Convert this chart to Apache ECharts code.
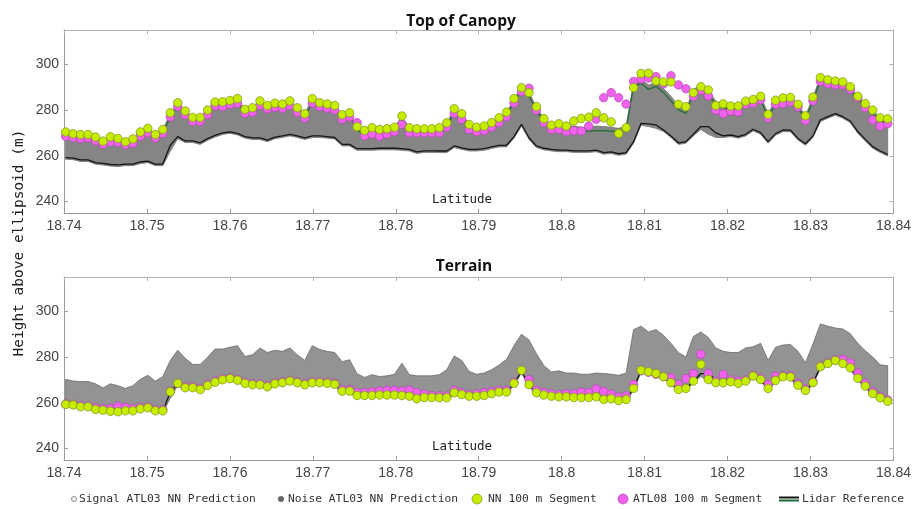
<!DOCTYPE html>
<html><head><meta charset="utf-8">
<script src="https://cdn.jsdelivr.net/npm/echarts@6/dist/echarts.min.js"></script>
<style>html,body{margin:0;padding:0;background:#fff}#c{width:914px;height:509px}</style>
</head><body><div id="c"></div>
<script>
// ---- data: 100 m segments along track ----
const SEG_START = 18.7402;   // latitude of first 100 m segment
const SEG_STEP = 0.0009009;  // latitude step of a 100 m segment
const SEG_COUNT = 111;

const xTicks = [18.74, 18.75, 18.76, 18.77, 18.78, 18.79, 18.80, 18.81, 18.82, 18.83, 18.84];
const yTicks = [240, 260, 280, 300];

// Top of canopy: NN 100 m segment
const nnCanopy = [
270.4, 269.6, 269.3, 269.3, 268.2, 266.4, 268.3, 267.6, 266.1, 267.4,
270.4, 272.0, 269.3, 271.5, 278.8, 283.2, 279.6, 276.8, 276.8, 280.0,
283.5, 283.6, 284.2, 285.0, 280.3, 281.0, 284.0, 282.0, 283.0, 282.6,
284.0, 281.0, 278.4, 285.0, 283.2, 282.6, 282.0, 278.0, 278.8, 272.7,
271.1, 272.3, 271.5, 271.8, 272.5, 277.4, 272.3, 271.8, 271.8, 271.8,
272.3, 274.4, 280.6,
278.4, 273.7, 272.5, 273.0, 274.5, 276.6, 279.1, 285.0, 289.8, 287.6,
281.5, 276.2, 273.4, 274.0, 273.0, 275.2, 276.3, 276.9, 278.8, 276.6,
274.8, 269.8, 272.3, 289.8, 296.0, 296.1, 292.7, 292.3, 292.3, 282.5,
281.5, 287.6, 290.2, 288.8, 282.0, 282.7, 281.8, 281.8, 283.9, 284.6,
286.0, 278.1, 284.3, 285.3, 285.5, 282.5, 277.5, 285.7, 294.2, 293.2,
292.7, 292.3, 290.2, 286.0, 282.8, 280.0, 276.6, 276.2];

// Top of canopy: ATL08 100 m segment
const atl08Canopy = [
268.5, 268.0, 267.5, 267.8, 266.5, 265.0, 266.0, 265.8, 264.8, 265.5,
268.5, 270.0, 267.8, 269.8, 277.0, 281.5, 277.8, 275.0, 275.0, 278.0,
281.8, 281.5, 282.4, 283.0, 278.5, 279.0, 282.0, 280.5, 281.2, 280.8,
282.0, 279.0, 276.5, 283.0, 281.5, 280.8, 280.0, 276.0, 277.0, 274.5,
268.7, 269.5, 268.5, 269.5, 270.5, 273.7, 270.0, 270.0, 270.0, 270.0,
270.0, 272.5, 278.5,
276.0, 271.5, 270.5, 271.0, 272.5, 274.5, 277.0, 283.0, 288.0, 289.5,
280.0, 274.5, 271.5, 271.5, 270.5, 271.0, 270.8, 273.0, 276.0, 285.4,
287.6, 285.4, 282.6, 292.5, 293.6, 294.0, 294.6, 291.5, 295.0, 291.0,
289.3, 286.0, 288.5, 286.2, 279.9, 278.4, 279.5, 279.2, 282.5, 283.0,
284.5, 276.6, 282.5, 282.8, 283.5, 281.3, 275.5, 284.0, 292.5, 291.5,
291.0, 291.0, 289.0, 285.4, 281.0, 275.7, 273.0, 274.0];

// Terrain: NN 100 m segment
const nnTerrain = [
259.3, 259.1, 258.3, 258.3, 257.1, 256.8, 256.3, 256.1, 256.5, 256.5,
257.4, 257.8, 256.5, 256.5, 264.8, 268.5, 266.6, 266.6, 265.8, 267.6,
269.0, 270.1, 270.6, 269.9, 268.5, 267.9, 267.9, 267.0, 268.3, 268.8,
269.5, 268.8, 267.9, 268.8, 268.8, 268.5, 268.1, 265.1, 265.1, 263.2,
263.2, 263.2, 263.4, 263.4, 263.4, 263.2, 262.9, 261.8, 262.3, 262.3,
262.2, 262.2, 264.4,
263.6, 262.9, 262.9, 263.2, 264.0, 264.7, 264.7, 268.5, 274.2, 268.0,
264.4, 263.4, 262.9, 262.6, 262.6, 262.3, 262.3, 262.3, 262.6, 261.5,
261.8, 261.0, 261.5, 266.3, 274.2, 273.6, 272.8, 271.4, 268.8, 265.8,
266.3, 269.5, 276.8, 270.2, 268.8, 268.8, 269.2, 268.5, 269.5, 271.7,
270.2, 266.3, 269.8, 271.4, 271.3, 267.7, 265.4, 268.8, 275.8, 277.2,
278.5, 277.2, 275.3, 270.7, 267.3, 264.1, 262.2, 260.7];

// Terrain: ATL08 100 m segment
const atl08Terrain = [
259.5, 259.3, 258.8, 258.6, 257.8, 257.5, 257.5, 258.5, 258.0, 257.5,
258.0, 258.2, 257.0, 257.0, 265.0, 268.5, 267.0, 267.0, 266.3, 268.0,
269.5, 270.5, 271.0, 270.2, 269.0, 268.3, 268.3, 267.5, 268.7, 269.2,
269.8, 269.2, 268.3, 269.2, 269.2, 268.9, 268.5, 265.8, 265.8, 264.5,
264.5, 264.8, 265.2, 265.5, 265.5, 265.2, 265.6, 264.5, 263.8, 263.2,
263.0, 263.0, 265.5,
264.5, 263.5, 264.0, 264.5, 265.0, 265.5, 265.5, 269.0, 274.2, 270.2,
265.5, 264.5, 264.0, 263.5, 264.0, 264.0, 264.7, 264.5, 266.1, 265.0,
263.8, 262.5, 263.0, 268.0, 274.0, 273.4, 272.5, 271.5, 271.0, 268.0,
270.6, 272.8, 281.2, 272.8, 269.5, 272.4, 270.0, 269.5, 270.0, 272.0,
270.8, 268.0, 271.7, 271.8, 271.8, 268.5, 266.0, 269.2, 276.0, 277.5,
278.8, 279.0, 277.5, 273.0, 268.5, 265.0, 262.8, 261.2];

// Lidar reference, terrain (black)
const lidarTerrain = [
259.2, 259.0, 258.2, 258.2, 257.0, 256.7, 256.2, 256.0, 256.4, 256.4,
257.3, 257.7, 256.4, 256.4, 264.6, 268.4, 266.5, 266.5, 265.7, 267.5,
268.9, 270.0, 270.5, 269.8, 268.4, 267.8, 267.8, 266.9, 268.2, 268.7,
269.4, 268.7, 267.8, 268.7, 268.7, 268.4, 268.0, 265.0, 265.0, 263.1,
263.1, 263.1, 263.3, 263.3, 263.3, 263.1, 262.8, 261.7, 262.2, 262.2,
262.1, 262.1, 264.3,
263.5, 262.8, 262.8, 263.1, 263.9, 264.6, 264.6, 268.4, 273.8, 267.9,
264.3, 263.3, 262.8, 262.5, 262.5, 262.2, 262.2, 262.2, 262.5, 261.4,
261.7, 260.9, 261.4, 266.2, 274.2, 274.0, 273.5, 271.3, 268.7, 265.7,
266.2, 269.4, 272.8, 272.8, 270.0, 268.7, 269.1, 268.4, 269.4, 271.6,
270.1, 266.2, 269.7, 271.3, 271.2, 267.6, 265.3, 268.7, 275.7, 277.1,
278.4, 277.1, 275.2, 270.6, 267.2, 264.0, 262.1, 260.6];

// Lidar reference, top of canopy (dark green)
const lidarCanopy = [
268.8, 268.0, 267.8, 267.8, 266.8, 265.0, 266.8, 266.0, 264.8, 266.0,
268.8, 270.5, 268.0, 270.0, 277.0, 281.5, 278.0, 275.3, 275.3, 278.5,
282.0, 282.0, 282.8, 283.5, 278.8, 279.5, 282.5, 280.5, 281.5, 281.0,
282.5, 279.5, 277.0, 283.5, 281.8, 281.0, 280.5, 276.5, 277.3, 271.2,
269.6, 270.8, 270.0, 270.3, 271.0, 275.8, 270.8, 270.3, 270.3, 270.3,
270.8, 273.0, 279.0,
277.0, 272.2, 271.0, 271.5, 273.0, 275.0, 277.5, 283.5, 288.5, 286.0,
280.0, 274.8, 272.0, 272.5, 271.5, 271.0, 270.8, 270.8, 271.0, 271.0,
270.8, 270.5, 271.5, 290.5, 291.7, 289.0, 290.5, 287.6, 284.0, 280.2,
278.5, 287.6, 289.8, 286.9, 282.5, 281.0, 280.5, 280.5, 282.5, 283.0,
284.6, 276.8, 282.8, 283.8, 284.0, 281.0, 276.0, 284.2, 292.7, 291.7,
291.2, 290.8, 288.7, 284.8, 281.3, 278.5, 275.0, 274.7];

// ATL03 photon cloud envelope (bottom / top)
const cloudBottom = [
258.5, 258.3, 257.5, 257.5, 256.3, 256.0, 255.5, 255.3, 255.7, 255.7,
256.6, 257.0, 255.7, 255.7, 262.0, 267.5, 265.8, 265.8, 265.0, 266.8,
268.2, 269.3, 269.8, 269.1, 267.7, 267.1, 267.1, 266.2, 267.5, 268.0,
268.7, 268.0, 267.1, 268.0, 268.0, 267.7, 267.3, 264.3, 264.3, 262.4,
262.4, 262.4, 262.6, 262.6, 262.6, 262.4, 262.1, 261.0, 261.5, 261.5,
261.4, 261.4, 263.6,
262.8, 262.1, 262.1, 262.4, 263.2, 263.9, 263.9, 267.7, 273.0, 267.2,
263.6, 262.6, 262.1, 261.8, 261.8, 261.5, 261.5, 261.5, 261.8, 260.7,
261.0, 260.2, 260.7, 265.5, 273.4, 272.8, 272.0, 270.6, 268.0, 265.0,
265.5, 268.7, 271.5, 269.4, 268.0, 268.0, 268.4, 267.7, 268.7, 270.9,
269.4, 265.5, 269.0, 270.6, 270.5, 266.9, 264.6, 268.0, 275.0, 276.4,
277.7, 276.4, 274.5, 269.9, 266.5, 263.3, 261.4, 259.9];
const cloudTop = [
270.3, 269.5, 269.3, 269.3, 268.3, 266.5, 268.3, 267.5, 266.3, 267.5,
270.3, 272.0, 269.5, 271.5, 278.5, 283.0, 279.5, 276.8, 276.8, 280.0,
283.5, 283.5, 284.3, 285.0, 280.3, 281.0, 284.0, 282.0, 283.0, 282.5,
284.0, 281.0, 278.5, 285.0, 283.3, 282.5, 282.0, 278.0, 278.8, 272.7,
271.1, 272.3, 271.5, 271.8, 272.5, 277.3, 272.3, 271.8, 271.8, 271.8,
272.3, 274.5, 280.5,
278.5, 273.7, 272.5, 273.0, 274.5, 276.5, 279.0, 285.0, 290.0, 287.5,
281.5, 276.2, 273.5, 274.0, 273.0, 273.0, 272.5, 272.5, 273.0, 272.8,
272.5, 272.0, 273.0, 292.0, 293.5, 291.0, 292.0, 289.5, 286.0, 282.0,
280.0, 289.0, 291.0, 288.5, 284.0, 282.5, 282.0, 282.0, 284.0, 284.5,
286.0, 278.5, 284.3, 285.3, 285.5, 282.5, 277.5, 285.7, 294.5, 293.5,
292.7, 292.3, 290.2, 286.0, 282.8, 280.0, 276.6, 276.2];

// ---- build ----
const lat = [];
for (let i = 0; i < SEG_COUNT; i++) lat.push(+(SEG_START + i * SEG_STEP).toFixed(6));
const pairs = arr => lat.map((x, i) => [x, arr[i]]);

const GRIDS = [{left: 64, top: 30, width: 832, height: 183}, {left: 64, top: 277, width: 832, height: 183}];
const AX = '#9a9a9a';
const xFmt = v => { let s = (+v).toFixed(2); if (s.endsWith('0')) s = s.slice(0, -1); return s; };

const xAxis = [], yAxis = [];
GRIDS.forEach((g, gi) => {
  xAxis.push({type: 'value', gridIndex: gi, min: 18.74, max: 18.84, position: 'bottom',
    axisLine: {onZero: false, lineStyle: {color: AX, width: 1}},
    axisTick: {inside: true, length: 4, customValues: xTicks, lineStyle: {color: AX}},
    axisLabel: {customValues: xTicks, formatter: xFmt, fontFamily: 'Liberation Sans', fontSize: 14, color: '#444', margin: 6},
    splitLine: {show: false}});
  xAxis.push({type: 'value', gridIndex: gi, min: 18.74, max: 18.84, position: 'top',
    axisLine: {onZero: false, lineStyle: {color: '#b0b0b0', width: 1}},
    axisTick: {inside: true, length: 4, customValues: xTicks, lineStyle: {color: '#b0b0b0'}},
    axisLabel: {show: false}, splitLine: {show: false}});
  yAxis.push({type: 'value', gridIndex: gi, min: 235, max: 315, position: 'left',
    axisLine: {show: true, onZero: false, lineStyle: {color: AX, width: 1}},
    axisTick: {show: true, inside: true, length: 4, customValues: yTicks, lineStyle: {color: AX}},
    axisLabel: {customValues: yTicks, fontFamily: 'Liberation Sans', fontSize: 14, color: '#444', margin: 5},
    splitLine: {show: false}});
  yAxis.push({type: 'value', gridIndex: gi, min: 235, max: 315, position: 'right',
    axisLine: {show: true, onZero: false, lineStyle: {color: '#b0b0b0', width: 1}},
    axisTick: {show: true, inside: true, length: 4, customValues: yTicks, lineStyle: {color: '#b0b0b0'}},
    axisLabel: {show: false}, splitLine: {show: false}});
});

function cloudSeries(ai, fill, stroke) {
  return {type: 'custom', name: 'ATL03 photons', xAxisIndex: ai, yAxisIndex: ai, z: 1, silent: true,
    data: lat.map((x, i) => [x, cloudBottom[i], cloudTop[i]]),
    encode: {x: 0, y: [1, 2]},
    renderItem: function (params, api) {
      if (params.dataIndex !== 0) return null;
      const pts = [];
      for (let i = 0; i < lat.length; i++) pts.push(api.coord([lat[i], cloudTop[i]]));
      for (let i = lat.length - 1; i >= 0; i--) pts.push(api.coord([lat[i], cloudBottom[i]]));
      return {type: 'polygon', shape: {points: pts}, style: {fill: fill, stroke: stroke, lineWidth: 0.8}};
    }};
}
function lineSeries(ai, arr, color, z) {
  return {type: 'line', xAxisIndex: ai, yAxisIndex: ai, data: pairs(arr), symbol: 'none', z: z, silent: true,
    lineStyle: {color: color, width: 1.3}};
}
function dotSeries(ai, arr, color, border, z) {
  return {type: 'scatter', xAxisIndex: ai, yAxisIndex: ai, data: pairs(arr), symbol: 'circle', symbolSize: 8.5, z: z,
    itemStyle: {color: color, borderColor: border, borderWidth: 0.7, opacity: 1}};
}

const GREEN = '#c6ec00', GREEN_B = '#7c8f1c', MAG = '#f062ee', MAG_B = '#b048b0';
const series = [
  cloudSeries(0, '#858585', '#737373'),
  lineSeries(0, lidarTerrain, '#151515', 2),
  lineSeries(0, lidarCanopy, '#1f6b35', 3),
  dotSeries(0, atl08Canopy, MAG, MAG_B, 4),
  dotSeries(0, nnCanopy, GREEN, GREEN_B, 5),
  cloudSeries(2, '#939393', '#6a6a6a'),
  lineSeries(2, lidarTerrain, '#151515', 2),
  dotSeries(2, atl08Terrain, MAG, MAG_B, 4),
  dotSeries(2, nnTerrain, GREEN, GREEN_B, 5)
];

const MONO = 'DejaVu Sans Mono';
const legendY = 499;
const lt = (x, s) => ({type: 'text', x: x, y: legendY, style: {text: s, font: '11.3px "' + MONO + '"', fill: '#333', textVerticalAlign: 'middle'}});
const graphic = [
  {type: 'text', x: 462, y: 200, style: {text: 'Latitude', font: '12.5px "' + MONO + '"', fill: '#222', textAlign: 'center', textVerticalAlign: 'middle'}},
  {type: 'text', x: 462, y: 447, style: {text: 'Latitude', font: '12.5px "' + MONO + '"', fill: '#222', textAlign: 'center', textVerticalAlign: 'middle'}},
  {type: 'text', x: 19, y: 243, rotation: Math.PI / 2, style: {text: 'Height above ellipsoid (m)', font: '14.5px "' + MONO + '"', fill: '#222', textAlign: 'center', textVerticalAlign: 'middle'}},
  {type: 'circle', shape: {cx: 74, cy: legendY, r: 2.5}, style: {fill: '#fff', stroke: '#888', lineWidth: 1}},
  lt(79, 'Signal ATL03 NN Prediction'),
  {type: 'circle', shape: {cx: 281, cy: legendY, r: 2.8}, style: {fill: '#666', stroke: '#555', lineWidth: 0.5}},
  lt(288, 'Noise ATL03 NN Prediction'),
  {type: 'circle', shape: {cx: 477, cy: legendY, r: 5}, style: {fill: GREEN, stroke: GREEN_B, lineWidth: 0.7}},
  lt(488, 'NN 100 m Segment'),
  {type: 'circle', shape: {cx: 623, cy: legendY, r: 5}, style: {fill: MAG, stroke: MAG_B, lineWidth: 0.7}},
  lt(633, 'ATL08 100 m Segment'),
  {type: 'line', shape: {x1: 779, y1: legendY - 1.5, x2: 799, y2: legendY - 1.5}, style: {stroke: '#151515', lineWidth: 2}},
  {type: 'line', shape: {x1: 779, y1: legendY + 1.5, x2: 799, y2: legendY + 1.5}, style: {stroke: '#1f6b35', lineWidth: 2}},
  lt(802, 'Lidar Reference')
];

const chart = echarts.init(document.getElementById('c'), null, {renderer: 'canvas'});
chart.setOption({
  backgroundColor: '#fff',
  animation: false,
  title: [
    {text: 'Top of Canopy', left: 456, top: 9, textAlign: 'center', textStyle: {fontFamily: 'Open Sans', fontWeight: 'bold', fontSize: 15.5, color: '#111'}},
    {text: 'Terrain', left: 459, top: 254, textAlign: 'center', textStyle: {fontFamily: 'Open Sans', fontWeight: 'bold', fontSize: 15.5, color: '#111'}}
  ],
  grid: GRIDS,
  xAxis: xAxis,
  yAxis: yAxis,
  series: series,
  graphic: graphic
});
</script></body></html>
